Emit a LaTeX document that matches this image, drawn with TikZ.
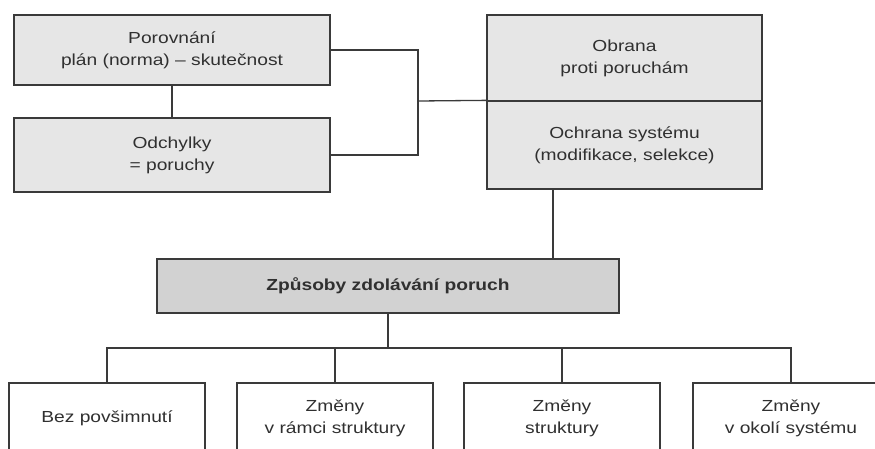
\documentclass[tikz,border=0pt]{standalone}
\usepackage{fontspec}
\setmainfont[FakeStretch=1.2]{Liberation Sans}
\definecolor{linec}{HTML}{3A3A3A}
\definecolor{textc}{HTML}{303030}
\definecolor{topfill}{HTML}{E6E6E6}
\definecolor{midfill}{HTML}{D2D2D2}
\begin{document}
\begin{tikzpicture}[x=1pt,y=-1pt,
  box/.style={draw=linec, line width=1.3pt, rectangle, inner sep=0pt, align=center,
    font=\fontsize{16}{22}\selectfont, text=textc},
  topbox/.style={box, fill=topfill},
  midbox/.style={box, fill=midfill, font=\fontsize{16}{22}\selectfont\bfseries},
  botbox/.style={box, fill=white, minimum width=196pt, minimum height=70pt},
  conn/.style={draw=linec, line width=1.3pt}]
\useasboundingbox (0,0) rectangle (875,448);
\clip (0,0) rectangle (875,448);

\node[topbox, minimum width=316pt, minimum height=70pt] (por) at (172,50) {Porovnání\\plán (norma) – skutečnost};
\node[topbox, minimum width=316pt, minimum height=74pt] (odch) at (172,155) {Odchylky\\= poruchy};
\node[topbox, minimum width=275pt, minimum height=86pt] (obr) at (624.5,58) {Obrana\\proti poruchám};
\node[topbox, minimum width=275pt, minimum height=88pt] (och) at (624.5,145) {Ochrana systému\\(modifikace, selekce)};
\node[midbox, minimum width=462pt, minimum height=54pt] (mid) at (388,286) {Způsoby zdolávání poruch};

\node[botbox] (a) at (107,418) {Bez povšimnutí};
\node[botbox] (b) at (335,418) {Změny\\v rámci struktury};
\node[botbox] (c) at (562,418) {Změny\\struktury};
\node[botbox] (d) at (791,418) {Změny\\v okolí systému};

\draw[conn] (por) -- (odch);
\coordinate (j) at (418,101);
\draw[conn] (por.east) -| (j) |- (odch.east);
\draw[conn] (j) -- (och.north west);
\coordinate (t) at (553,189);
\draw[conn] (t) -- (t |- mid.north);
\coordinate (bus) at (388,348);
\draw[conn] (mid.south) -- (bus);
\draw[conn] (a.north) |- (bus) -| (d.north);
\draw[conn] (b.north) -- (b.north |- bus);
\draw[conn] (c.north) -- (c.north |- bus);
\end{tikzpicture}
\end{document}
